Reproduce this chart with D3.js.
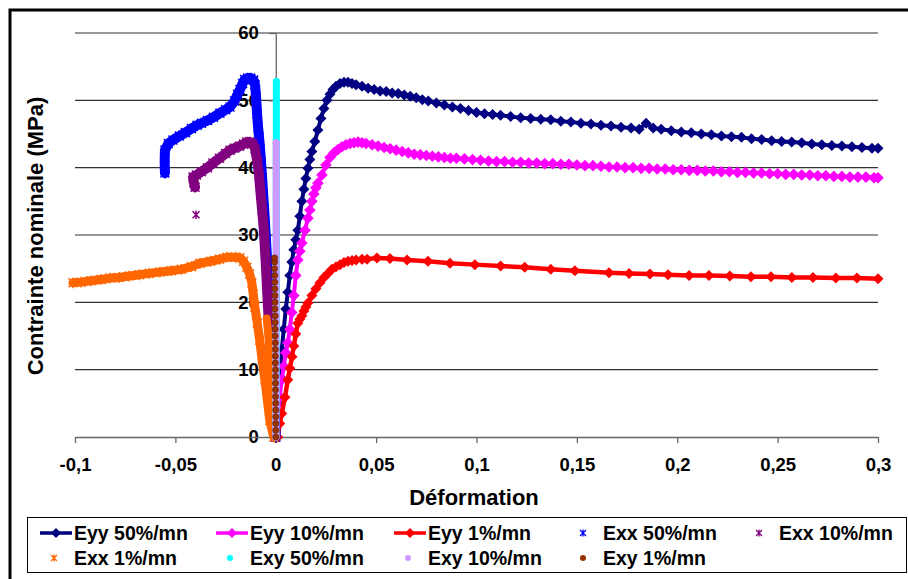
<!DOCTYPE html>
<html><head><meta charset="utf-8">
<script src="https://cdn.jsdelivr.net/npm/d3@7"></script>
<style>
html,body{margin:0;padding:0;background:#fff;}
svg{display:block;font-family:"Liberation Sans",Arial,sans-serif;font-weight:bold;}
</style></head><body>
<svg id="chart" width="908" height="579"></svg>
<script>
// ---------- data (strain, stress MPa) ----------
const xTicks = [-0.1, -0.05, 0, 0.05, 0.1, 0.15, 0.2, 0.25, 0.3];
const yTicks = [0, 10, 20, 30, 40, 50, 60];
const seriesNames = ["Eyy 50%/mn","Eyy 10%/mn","Eyy 1%/mn","Exx 50%/mn","Exx 10%/mn","Exx 1%/mn","Exy 50%/mn","Exy 10%/mn","Exy 1%/mn"];

const eyy50 = [[0,0],[0.001,5],[0.002,9],[0.003,13],[0.004,16],[0.005,19],[0.006,21.5],[0.007,24],[0.008,26],[0.009,27.8],[0.010,29.3],[0.011,30.7],[0.012,32.8],[0.013,35],[0.014,36.8],[0.015,38.4],[0.016,39.9],[0.017,41.2],[0.018,42.4],[0.0195,43.9],[0.021,45.6],[0.0225,47.3],[0.024,48.8],[0.0255,50],[0.027,50.9],[0.0285,51.6],[0.030,52.1],[0.032,52.5],[0.034,52.7],[0.036,52.7],[0.038,52.5],[0.040,52.3],[0.043,52.1],[0.046,51.8],[0.049,51.6],[0.052,51.4],[0.055,51.3],[0.058,51.1],[0.061,51.0],[0.064,50.8],[0.067,50.6],[0.070,50.4],[0.073,50.1],[0.076,49.9],[0.080,49.6],[0.084,49.3],[0.088,49.0],[0.092,48.8],[0.096,48.5],[0.100,48.2],[0.104,48.0],[0.108,47.9],[0.112,47.8],[0.117,47.6],[0.122,47.4],[0.127,47.3],[0.132,47.2],[0.137,47.1],[0.142,46.9],[0.147,46.8],[0.152,46.6],[0.157,46.5],[0.162,46.3],[0.167,46.2],[0.172,46.0],[0.177,45.9],[0.181,45.7],[0.1845,46.6],[0.188,45.9],[0.192,45.7],[0.197,45.5],[0.202,45.3],[0.207,45.2],[0.212,45.0],[0.217,44.9],[0.222,44.7],[0.227,44.6],[0.232,44.5],[0.237,44.3],[0.242,44.2],[0.247,44.0],[0.252,43.9],[0.257,43.8],[0.262,43.7],[0.267,43.5],[0.272,43.4],[0.277,43.3],[0.282,43.2],[0.287,43.1],[0.292,43.0],[0.297,42.9],[0.300,42.9]];

const eyy10 = [[0,0],[0.001,3],[0.002,6],[0.003,8.5],[0.004,10.5],[0.005,12.5],[0.006,14],[0.007,16],[0.008,18.5],[0.009,21],[0.010,24],[0.011,26.3],[0.012,27.6],[0.013,28.8],[0.0146,30.7],[0.016,32.5],[0.017,33.7],[0.018,35],[0.019,36.1],[0.020,37],[0.021,37.7],[0.023,38.9],[0.025,40.4],[0.027,41.5],[0.029,42.2],[0.031,42.7],[0.033,43.1],[0.035,43.4],[0.037,43.6],[0.039,43.7],[0.041,43.8],[0.043,43.7],[0.045,43.6],[0.048,43.4],[0.051,43.2],[0.054,43.0],[0.057,42.8],[0.060,42.6],[0.063,42.4],[0.066,42.2],[0.069,42.0],[0.072,41.9],[0.075,41.8],[0.078,41.7],[0.081,41.6],[0.084,41.5],[0.087,41.4],[0.090,41.4],[0.094,41.3],[0.098,41.2],[0.102,41.1],[0.106,41.0],[0.110,40.9],[0.114,40.9],[0.118,40.8],[0.122,40.8],[0.126,40.7],[0.130,40.7],[0.134,40.6],[0.138,40.6],[0.142,40.5],[0.146,40.5],[0.150,40.4],[0.154,40.3],[0.158,40.3],[0.162,40.2],[0.166,40.1],[0.170,40.1],[0.174,40.0],[0.178,40.0],[0.182,39.9],[0.186,39.9],[0.190,39.8],[0.194,39.8],[0.198,39.7],[0.202,39.7],[0.206,39.6],[0.210,39.6],[0.214,39.5],[0.218,39.5],[0.222,39.4],[0.226,39.4],[0.230,39.3],[0.234,39.3],[0.238,39.2],[0.242,39.2],[0.246,39.1],[0.250,39.1],[0.254,39.0],[0.258,39.0],[0.262,38.9],[0.266,38.9],[0.270,38.8],[0.274,38.8],[0.278,38.7],[0.282,38.7],[0.286,38.6],[0.290,38.6],[0.294,38.6],[0.298,38.5],[0.300,38.5]];

const eyy1 = [[0.001,0],[0.002,2],[0.003,3.5],[0.0046,5.9],[0.006,8.5],[0.007,10.2],[0.0081,11.9],[0.009,13.5],[0.010,15.3],[0.011,16.9],[0.012,17.5],[0.013,18],[0.014,18.7],[0.015,19.3],[0.016,19.9],[0.018,21],[0.020,22],[0.022,22.9],[0.024,23.7],[0.026,24.3],[0.028,24.9],[0.030,25.3],[0.032,25.6],[0.034,25.9],[0.036,26.1],[0.038,26.2],[0.040,26.3],[0.043,26.4],[0.0455,26.4],[0.0504,26.6],[0.0569,26.5],[0.0654,26.3],[0.0758,26.1],[0.0868,25.8],[0.0992,25.6],[0.112,25.4],[0.124,25.2],[0.137,24.9],[0.149,24.7],[0.166,24.4],[0.176,24.3],[0.1864,24.2],[0.1954,24.1],[0.2059,24.0],[0.2158,24.0],[0.2262,23.9],[0.2367,23.8],[0.2467,23.8],[0.2571,23.7],[0.2676,23.7],[0.279,23.6],[0.2895,23.6],[0.3,23.5]];

const exx50 = [[0,0],[-0.0008,4],[-0.0015,8],[-0.002,12],[-0.0027,16],[-0.0033,20],[-0.0038,23.5],[-0.0043,26.3],[-0.0048,29],[-0.0053,31.5],[-0.0058,34],[-0.0063,36.2],[-0.0068,38.5],[-0.0073,40.8],[-0.0078,42.8],[-0.0083,44.5],[-0.0088,46],[-0.0093,48],[-0.0098,50.5],[-0.0103,52.3],[-0.011,53],[-0.0125,53.3],[-0.014,53.3],[-0.0155,53.1],[-0.0165,52.5],[-0.0178,51.6],[-0.019,50.9],[-0.0205,49.9],[-0.0228,49.0],[-0.025,48.6],[-0.0278,48.1],[-0.031,47.5],[-0.034,47.0],[-0.037,46.6],[-0.0392,46.3],[-0.042,45.8],[-0.045,45.2],[-0.048,44.7],[-0.0512,44.1],[-0.0535,43.6],[-0.0552,42.6],[-0.0553,41.5],[-0.0553,40.3],[-0.0552,39.2]];

const exx10 = [[0,0],[-0.0008,3],[-0.0015,6],[-0.002,9],[-0.0025,12],[-0.003,15],[-0.0035,17.4],[-0.004,20],[-0.0045,23],[-0.005,26],[-0.0055,28.5],[-0.006,31],[-0.0068,33.7],[-0.0075,36],[-0.0083,38.8],[-0.0093,41.1],[-0.0103,42.8],[-0.0115,43.6],[-0.013,43.8],[-0.0145,43.8],[-0.016,43.5],[-0.018,43.2],[-0.0205,42.9],[-0.0228,42.6],[-0.025,42.1],[-0.028,41.4],[-0.0313,40.7],[-0.034,40.0],[-0.037,39.4],[-0.0395,38.9],[-0.0412,38.6],[-0.0408,37.8],[-0.0402,37.1]];
const exx10Isolated = [[-0.0397,33.0]];

const exx1Initial = [[0,0],[-0.0012,5],[-0.0025,10],[-0.0036,15],[-0.0045,17.6]];
const exx1 = [[-0.001,0],[-0.003,2.5],[-0.0054,8.5],[-0.0068,11.5],[-0.008,14.4],[-0.0092,16.9],[-0.0104,19.3],[-0.0112,21.2],[-0.0119,22.9],[-0.013,24.2],[-0.0144,25.2],[-0.016,26.1],[-0.0179,26.6],[-0.020,26.7],[-0.0243,26.7],[-0.028,26.4],[-0.0325,26.1],[-0.0377,25.8],[-0.042,25.3],[-0.047,24.9],[-0.052,24.7],[-0.0577,24.5],[-0.063,24.3],[-0.068,24.1],[-0.073,23.9],[-0.078,23.7],[-0.0826,23.6],[-0.087,23.4],[-0.092,23.2],[-0.097,23.0],[-0.101,22.9]];

const exy50 = [[0,0],[0.0002,6],[0.0002,12],[0.0003,18],[0.0003,24],[0.0003,30],[0.0003,36],[0.0003,42],[0.0003,47],[0.0003,52.8]];
const exy10 = [[0,0],[0.0001,6],[0.0001,12],[0.0002,18],[0.0002,24],[0.0002,30],[0.0002,36],[0.0002,40],[0.0002,43.7]];
const exy1 = [[0,0],[0,1],[0,2],[0,3],[0,4],[0,5],[-0.0001,6],[-0.0001,7],[-0.0001,8],[-0.0001,9],[-0.0001,10],[-0.0002,11],[-0.0002,12],[-0.0002,13],[-0.0002,14],[-0.0003,15],[-0.0003,16],[-0.0003,17],[-0.0003,18],[-0.0004,19],[-0.0004,20],[-0.0004,21],[-0.0005,22],[-0.0005,23],[-0.0005,24],[-0.0006,25],[-0.0006,26],[-0.0006,26.6]];

// ---------- drawing ----------
const svg = d3.select("#chart");
const x = d3.scaleLinear().domain([-0.1, 0.3]).range([75, 878]);
const y = d3.scaleLinear().domain([0, 60]).range([437, 33]);

svg.append("rect").attr("x", 10).attr("y", 10).attr("width", 930).attr("height", 600)
  .attr("fill", "#fff").attr("stroke", "#000").attr("stroke-width", 3);

// gridlines
svg.append("g").selectAll("line").data(yTicks.filter(d => d > 0)).join("line")
  .attr("x1", x(-0.1)).attr("x2", x(0.3)).attr("y1", d => y(d)).attr("y2", d => y(d))
  .attr("stroke", "#333").attr("stroke-width", 1.2);

const fmt = d => String(d).replace(".", ",");

// y axis at x = 0
const gy = svg.append("g").attr("transform", `translate(${x(0)},0)`)
  .call(d3.axisLeft(y).tickValues(yTicks).tickSize(7).tickSizeOuter(0).tickPadding(10).tickFormat(fmt));
// x axis at y = 0
const gx = svg.append("g").attr("transform", `translate(0,${y(0)})`)
  .call(d3.axisBottom(x).tickValues(xTicks).tickSize(6).tickSizeOuter(0).tickPadding(15).tickFormat(fmt));
[gx, gy].forEach(g => {
  g.select(".domain").attr("stroke", "#666").attr("stroke-width", 1.3);
  g.selectAll(".tick line").attr("stroke", "#666").attr("stroke-width", 1.3);
  g.selectAll("text").attr("font-family", "Liberation Sans, Arial, sans-serif")
    .attr("font-weight", "bold").attr("font-size", 18.5).attr("fill", "#000");
});

const line = d3.line().x(d => x(d[0])).y(d => y(d[1]));
const diamondPath = r => `M0,${-r}L${r},0L0,${r}L${-r},0Z`;
const starPath = r => `M${-r},${-r}L${r},${r}M${-r},${r}L${r},${-r}M0,${-r * 1.2}L0,${r * 1.2}`;

const plot = svg.append("g");

function lineSeries(data, color, lw, r) {
  plot.append("path").datum(data).attr("d", line).attr("fill", "none")
    .attr("stroke", color).attr("stroke-width", lw).attr("stroke-linejoin", "round");
  plot.append("g").selectAll("path").data(data).join("path")
    .attr("transform", d => `translate(${x(d[0])},${y(d[1])})`)
    .attr("d", diamondPath(r)).attr("fill", color);
}
function starSeries(data, color, band, r, extra) {
  plot.append("path").datum(data).attr("d", line).attr("fill", "none")
    .attr("stroke", color).attr("stroke-width", band).attr("stroke-linejoin", "round").attr("stroke-linecap", "round");
  plot.append("g").selectAll("path").data(data.concat(extra || [])).join("path")
    .attr("transform", d => `translate(${x(d[0])},${y(d[1])})`)
    .attr("d", starPath(r)).attr("fill", "none").attr("stroke", color).attr("stroke-width", 1.5);
}
function dotSeries(data, color, band, r, stroke) {
  if (band > 0) plot.append("path").datum(data).attr("d", line).attr("fill", "none")
    .attr("stroke", color).attr("stroke-width", band).attr("stroke-linecap", "round");
  plot.append("g").selectAll("circle").data(data).join("circle")
    .attr("cx", d => x(d[0])).attr("cy", d => y(d[1])).attr("r", r)
    .attr("fill", color).attr("stroke", stroke || "none").attr("stroke-width", 0.8);
}

const colors = ["#000080", "#FF00FF", "#FF0000", "#0000FF", "#800080", "#FF6600", "#00FFFF", "#CC99FF", "#993300"];

lineSeries(eyy50, colors[0], 4, 5.5);
lineSeries(eyy10, colors[1], 4, 5.8);
lineSeries(eyy1, colors[2], 4.5, 5.5);
starSeries(exx50, colors[3], 10, 4.5);
starSeries(exx10, colors[4], 10, 4.5);
plot.append("g").selectAll("path").data(exx10Isolated).join("path")
  .attr("transform", d => `translate(${x(d[0])},${y(d[1])})`)
  .attr("d", starPath(3.5)).attr("fill", "none").attr("stroke", colors[4]).attr("stroke-width", 1.5);
plot.append("path").datum(exx1Initial).attr("d", line).attr("fill", "none")
  .attr("stroke", colors[5]).attr("stroke-width", 8).attr("stroke-linecap", "round");
starSeries(exx1, colors[5], 9, 4.5);
dotSeries(exy50, colors[6], 7, 3.5);
dotSeries(exy10, colors[7], 7, 3.5);
dotSeries(exy1, colors[8], 0, 3, "#6b2000");

// axis titles
svg.append("text").attr("x", 474).attr("y", 497).attr("text-anchor", "middle")
  .attr("dominant-baseline", "central").attr("font-size", 22).text("Déformation");
svg.append("text").attr("transform", "translate(35,236) rotate(-90)").attr("text-anchor", "middle")
  .attr("dominant-baseline", "central").attr("font-size", 22).text("Contrainte nominale (MPa)");

// legend
const lg = svg.append("g");
lg.append("rect").attr("x", 27.5).attr("y", 517.5).attr("width", 879).attr("height", 55)
  .attr("fill", "#fff").attr("stroke", "#000").attr("stroke-width", 1);
const colX = [74, 250, 428, 603, 779];
const rowY = [533, 558];
seriesNames.forEach((name, i) => {
  const tx = colX[i % 5], ty = rowY[Math.floor(i / 5)];
  const g = lg.append("g");
  if (i < 3) {
    g.append("line").attr("x1", tx - 34).attr("x2", tx - 2).attr("y1", ty).attr("y2", ty)
      .attr("stroke", colors[i]).attr("stroke-width", 3.5);
    g.append("path").attr("transform", `translate(${tx - 18},${ty})`).attr("d", diamondPath(5)).attr("fill", colors[i]);
  } else if (i < 6) {
    g.append("path").attr("transform", `translate(${tx - 20},${ty})`).attr("d", starPath(3))
      .attr("fill", "none").attr("stroke", colors[i]).attr("stroke-width", 1.3);
  } else {
    g.append("circle").attr("cx", tx - 20).attr("cy", ty).attr("r", 3).attr("fill", colors[i]);
  }
  g.append("text").attr("x", tx).attr("y", ty).attr("dominant-baseline", "central")
    .attr("font-size", 19.5).text(name);
});
</script>
</body></html>
